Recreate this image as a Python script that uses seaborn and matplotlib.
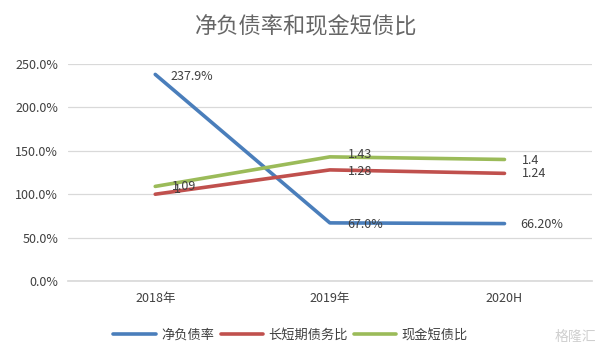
import seaborn as sns
import matplotlib.pyplot as plt
import pandas as pd
from matplotlib.ticker import PercentFormatter

# 数据
periods = ['2018年', '2019年', '2020H']
net_debt = [2.379, 0.670, 0.662]        # 净负债率
long_short = [1.00, 1.28, 1.24]         # 长短期债务比
cash_short = [1.09, 1.43, 1.40]         # 现金短债比
net_debt_labels = ['237.9%', '67.0%', '66.20%']
long_short_labels = ['1', '1.28', '1.24']
cash_short_labels = ['1.09', '1.43', '1.4']
series_names = ['净负债率', '长短期债务比', '现金短债比']

sns.set_theme(style='white')
plt.rcParams['font.family'] = ['Noto Sans CJK SC', 'DejaVu Sans']

df = pd.DataFrame({
    'period': periods * 3,
    'value': net_debt + long_short + cash_short,
    'series': [s for s in series_names for _ in periods],
})

colors = ['#4a7ebb', '#c0504d', '#9bbb59']

fig = plt.figure(figsize=(6.12, 3.59), dpi=100)
ax = fig.add_axes([0.111, 0.217, 0.856, 0.605])

sns.lineplot(data=df, x='period', y='value', hue='series', palette=colors,
             hue_order=series_names, linewidth=2.6, sort=False, ax=ax)

ax.set_xlim(-0.5, 2.5)
ax.set_ylim(0, 2.5)
ax.set_yticks([i * 0.5 for i in range(6)])
ax.yaxis.set_major_formatter(PercentFormatter(xmax=1, decimals=1))
ax.grid(axis='y', color='#d9d9d9', linewidth=0.9)
ax.set_axisbelow(True)
for side in ['left', 'right', 'top']:
    ax.spines[side].set_visible(False)
ax.spines['bottom'].set_color('#d9d9d9')
ax.tick_params(axis='y', length=0, labelsize=9, colors='#404040', pad=7)
ax.tick_params(axis='x', length=0, labelsize=9, colors='#404040', pad=8)
ax.set_xlabel('')
ax.set_ylabel('')

# 数据标签
label_sets = [
    (net_debt, net_debt_labels, [(15, -2), (17, -2), (16, -1)]),
    (long_short, long_short_labels, [(19, 5), (18, -2), (17, 0)]),
    (cash_short, cash_short_labels, [(17, 0), (18, 2), (17, -1)]),
]
for values, labels, offsets in label_sets:
    for i, (v, lab) in enumerate(zip(values, labels)):
        ax.annotate(lab, (i, v), xytext=offsets[i], textcoords='offset pixels',
                    ha='left', va='center', fontsize=9, color='#404040')

fig.suptitle('净负债率和现金短债比', y=0.925, va='center', fontsize=16, color='#666666')

handles, labels = ax.get_legend_handles_labels()
ax.legend_.remove()
fig.legend(handles, labels, loc='center', bbox_to_anchor=(0.475, 0.067), ncol=3,
           frameon=False, fontsize=9.5, handlelength=3.2, columnspacing=0.5,
           handletextpad=0.4, labelcolor='#404040')

fig.text(0.975, 0.06, '格隆汇', ha='right', va='center', fontsize=10, color='#cfcfcf')

plt.savefig('out.png', dpi=100)
